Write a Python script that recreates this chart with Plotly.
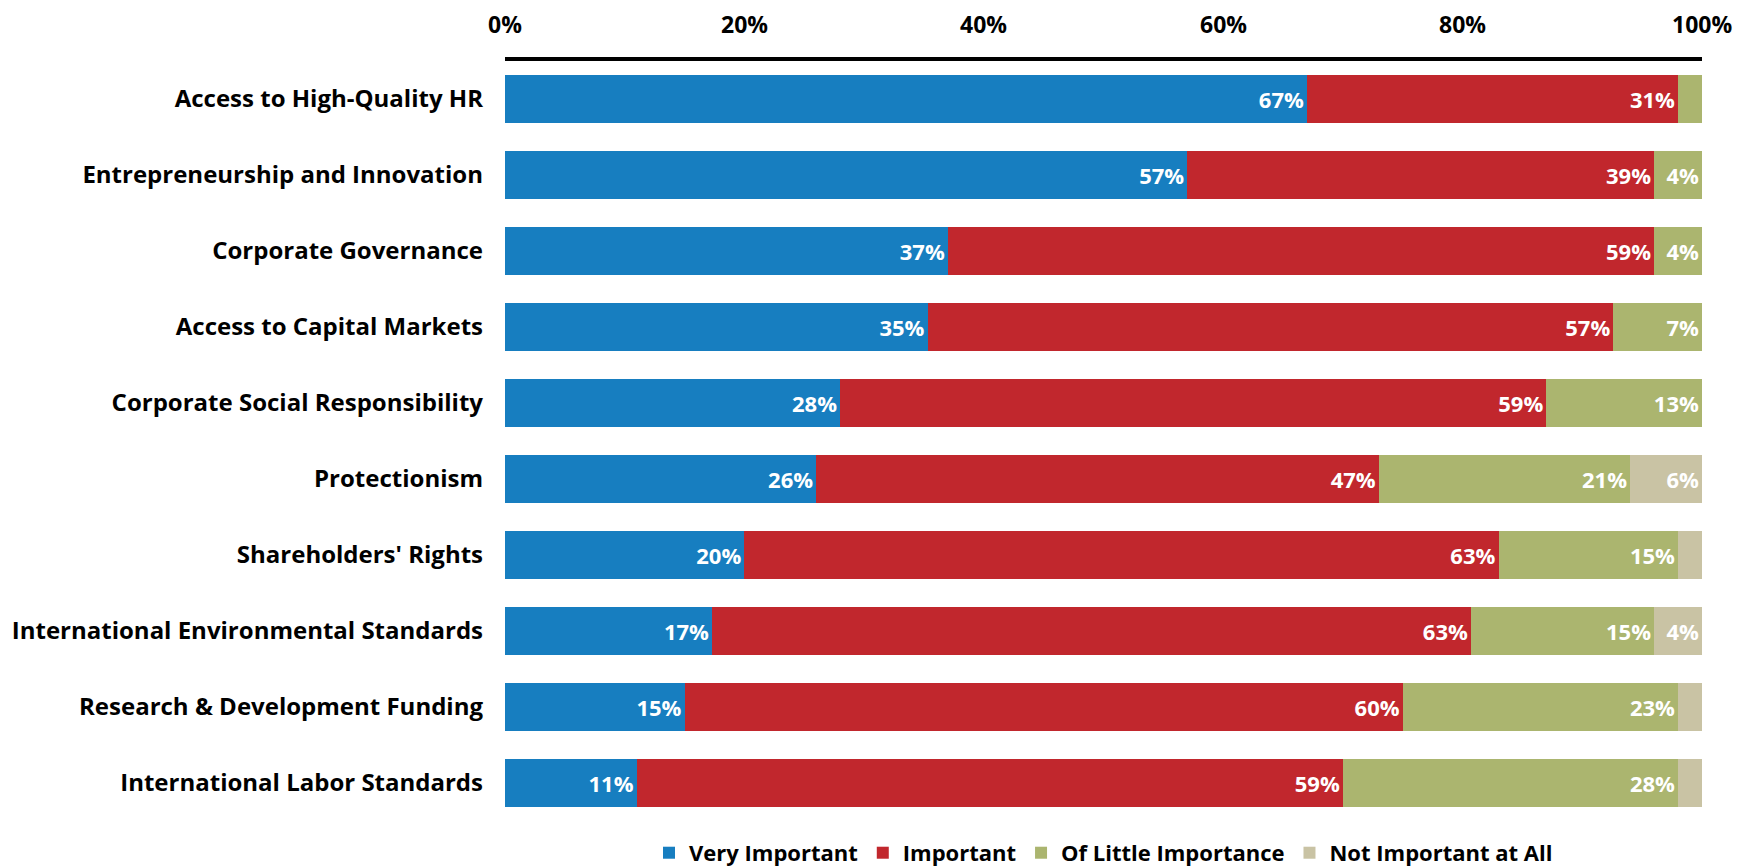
import plotly.graph_objects as go

categories = [
    "Access to High-Quality HR",
    "Entrepreneurship and Innovation",
    "Corporate Governance",
    "Access to Capital Markets",
    "Corporate Social Responsibility",
    "Protectionism",
    "Shareholders' Rights",
    "International Environmental Standards",
    "Research & Development Funding",
    "International Labor Standards",
]
very_important = [67, 57, 37, 35.3, 28, 26, 20, 17.3, 15, 11]
important = [31, 39, 59, 57.3, 59, 47, 63, 63.4, 60, 59]
little_importance = [2, 4, 4, 7.4, 13, 21, 15, 15.3, 23, 28]
not_important = [0, 0, 0, 0, 0, 6, 2, 4, 2, 2]

series_names = ["Very Important", "Important", "Of Little Importance", "Not Important at All"]
series_values = [very_important, important, little_importance, not_important]
series_colors = ["#177ec0", "#c1272d", "#abb56f", "#c9c3a4"]

tick_vals = [0, 20, 40, 60, 80, 100]

FONT = "Open Sans"

fig = go.Figure()
for name, vals, color in zip(series_names, series_values, series_colors):
    labels = [f"{v:.0f}%" if v >= 3 else "" for v in vals]
    fig.add_trace(go.Bar(
        y=categories, x=vals, name=name, orientation="h",
        marker=dict(color=color, line=dict(width=0)),
        text=labels, textposition="inside", insidetextanchor="end",
        textangle=0,
        textfont=dict(family=FONT, size=22, color="white", weight="bold"),
    ))

# top tick labels
for t in tick_vals:
    fig.add_annotation(
        x=t, y=1, xref="x", yref="paper", yshift=37,
        text=f"{t}%", showarrow=False, xanchor="center", yanchor="middle",
        font=dict(family=FONT, size=23, color="black", weight="bold"),
    )

fig.update_layout(
    width=1746, height=866,
    barmode="stack", bargap=0.38,
    plot_bgcolor="white", paper_bgcolor="white",
    margin=dict(l=505, r=44, t=61, b=45, autoexpand=False),
    showlegend=True,
    legend=dict(
        orientation="h", x=0.5, xanchor="center", y=-0.042, yanchor="middle",
        font=dict(family=FONT, size=22, color="black", weight="bold"),
        itemwidth=30, traceorder="normal",
    ),
    xaxis=dict(
        range=[0, 100], side="top", showgrid=False, zeroline=False,
        showticklabels=False, ticks="", automargin=False,
        showline=True, linecolor="black", linewidth=4,
    ),
    yaxis=dict(
        autorange="reversed", showgrid=False, zeroline=False, ticks="",
        automargin=False, ticklabelstandoff=21,
        tickfont=dict(family=FONT, size=24, color="black", weight="bold"),
    ),
    font=dict(family=FONT),
)

fig.write_html(
    "out.html",
    config={"displayModeBar": False},
    post_script="document.body.style.margin='0';document.body.style.overflow='hidden';",
)
